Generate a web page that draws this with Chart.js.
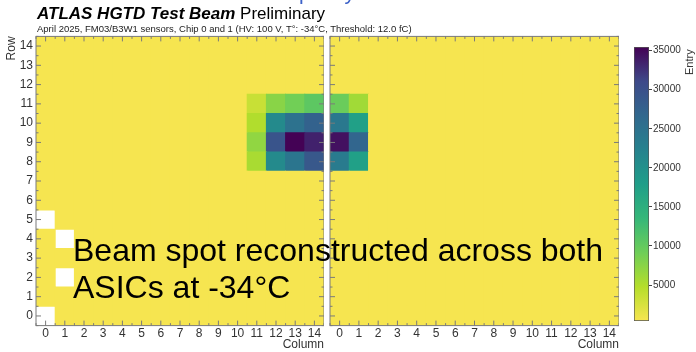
<!DOCTYPE html>
<html lang="en">
<head>
<meta charset="UTF-8">
<title>ATLAS HGTD Test Beam - module occupancy</title>
<script src="https://cdn.jsdelivr.net/npm/chart.js"></script>
<style>
body {
    margin: 0;
    width: 696px;
    height: 352px;
    overflow: hidden;
    position: relative;
    background: #fff;
    font-family: Arial, "Liberation Sans", sans-serif;
}
.box { position: absolute; top: 0; height: 352px; }
#leftBox { left: 0; width: 324px; }
#rightBox { left: 326px; width: 293px; }
#barBox { left: 620px; width: 76px; }
.txt { position: absolute; white-space: nowrap; line-height: 1; z-index: 2; }
#topline { left: 180px; top: -18px; font-size: 21px; color: #3d62c8; }
#title { left: 37px; top: 4.8px; font-size: 17px; color: #000; }
#title b { font-style: italic; }
#subtitle { left: 37px; top: 24.2px; font-size: 9.5px; color: #222; }
#note { left: 73px; top: 232.4px; font-size: 32px; line-height: 37px; color: #000; }
#entry { left: 684px; top: 75px; font-size: 11px; color: #333; transform-origin: left top; transform: rotate(-90deg); }
</style>
</head>
<body>
<div class="txt" id="topline">Module occupancy in test beam</div>
<div class="txt" id="title"><b>ATLAS HGTD Test Beam</b> Preliminary</div>
<div class="txt" id="subtitle">April 2025, FM03/B3W1 sensors, Chip 0 and 1 (HV: 100 V, T°: -34°C, Threshold: 12.0 fC)</div>
<div class="txt" id="note">Beam spot reconstructed across both<br>ASICs at -34°C</div>
<div class="txt" id="entry">Entry</div>

<div class="box" id="leftBox"><canvas id="chip0"></canvas></div>
<div class="box" id="rightBox"><canvas id="chip1"></canvas></div>
<div class="box" id="barBox"><canvas id="zbar"></canvas></div>

<script>
// pixel grid of each chip
const columns = ['0', '1', '2', '3', '4', '5', '6', '7', '8', '9', '10', '11', '12', '13', '14'];
const rows = [0, 1, 2, 3, 4, 5, 6, 7, 8, 9, 10, 11, 12, 13, 14];

// colour axis (Entry)
const zTicks = [5000, 10000, 15000, 20000, 25000, 30000, 35000];
const zMin = 400;
const zMax = 35470;

// entries of the pixels away from the beam (all the same yellow)
const flatEntries = 450;

// beam spot, rows 11 -> 8
const beamRows = [11, 10, 9, 8];
const chip0BeamCols = [11, 12, 13, 14];
const chip0Beam = [
    [3500, 7500, 9000, 10500],
    [5000, 21000, 25000, 27500],
    [7000, 29500, 35400, 33500],
    [5500, 21000, 24500, 29000]
];
const chip1BeamCols = [0, 1];
const chip1Beam = [
    [9500, 6000],
    [24000, 17500],
    [34500, 27000],
    [23500, 17500]
];

// pixels without entries, [column, row]
const chip0Empty = [[0, 5], [1, 4], [1, 2], [0, 0]];
const chip1Empty = [];

const viridis = ['#f7e550', '#b5de2b', '#6ece58', '#35b779', '#1f9e89', '#26828e', '#31688e', '#3e4989', '#440154'];

function hexToRgb(h) {
    return [1, 3, 5].map(i => parseInt(h.substr(i, 2), 16));
}

function colorFor(v) {
    let t = (v - zMin) / (zMax - zMin);
    t = Math.max(0, Math.min(1, t)) * (viridis.length - 1);
    const i = Math.min(Math.floor(t), viridis.length - 2);
    const f = t - i;
    const a = hexToRgb(viridis[i]), b = hexToRgb(viridis[i + 1]);
    const c = a.map((x, k) => Math.round(x + (b[k] - x) * f));
    return 'rgb(' + c.join(',') + ')';
}

function buildGrid(beamCols, beam, empty) {
    const grid = rows.map(() => columns.map(() => flatEntries));
    beamRows.forEach((r, i) => beamCols.forEach((c, j) => { grid[r][c] = beam[i][j]; }));
    empty.forEach(([c, r]) => { grid[r][c] = null; });
    return grid;
}

function rowDatasets(grid) {
    return rows.map(r => ({
        data: columns.map((_, c) => grid[r][c] === null ? null : [r - 0.5, r + 0.5]),
        backgroundColor: columns.map((_, c) => grid[r][c] === null ? 'rgba(0,0,0,0)' : colorFor(grid[r][c])),
        borderWidth: 0,
        grouped: false,
        barPercentage: 1,
        categoryPercentage: 1,
        inflateAmount: 0.5
    }));
}

// ROOT-like frame with inward ticks
const frameTicks = {
    id: 'frameTicks',
    afterDatasetsDraw(chart) {
        const {ctx, chartArea: a} = chart;
        const x = chart.scales.x, y = chart.scales.y;
        ctx.save();
        ctx.strokeStyle = '#7a7a7a';
        ctx.lineWidth = 1;
        ctx.strokeRect(a.left, a.top, a.width, a.height);
        ctx.beginPath();
        for (let v = -0.5; v <= 14.5; v += 0.5) {
            const len = Number.isInteger(v) ? 5 : 2.5;
            const px = x.getPixelForValue(v), py = y.getPixelForValue(v);
            ctx.moveTo(px, a.bottom); ctx.lineTo(px, a.bottom - len);
            ctx.moveTo(px, a.top); ctx.lineTo(px, a.top + len);
            ctx.moveTo(a.left, py); ctx.lineTo(a.left + len, py);
            ctx.moveTo(a.right, py); ctx.lineTo(a.right - len, py);
        }
        ctx.stroke();
        ctx.restore();
    }
};

Chart.defaults.font.family = 'Arial, "Liberation Sans", sans-serif';
Chart.defaults.color = '#333';

function chipChart(id, grid, withRowAxis) {
    return new Chart(document.getElementById(id), {
        type: 'bar',
        data: { labels: columns, datasets: rowDatasets(grid) },
        options: {
            responsive: true,
            maintainAspectRatio: false,
            animation: false,
            layout: { padding: { top: 36.4, left: 0, right: 0, bottom: 0 } },
            plugins: { legend: { display: false }, tooltip: { enabled: false } },
            scales: {
                x: {
                    type: 'category',
                    offset: true,
                    afterFit: s => { s.height = 26.4; },
                    grid: { display: false, drawTicks: false },
                    border: { display: false },
                    ticks: { padding: 1, maxRotation: 0, autoSkip: false, font: { size: 12 } },
                    title: { display: true, text: 'Column', align: 'end', padding: 0, font: { size: 12 } }
                },
                y: {
                    type: 'linear',
                    min: -0.5,
                    max: 14.5,
                    afterBuildTicks: s => { s.ticks = rows.map(v => ({ value: v })); },
                    afterFit: s => { s.width = withRowAxis ? 36 : 4; },
                    grid: { display: false, drawTicks: false },
                    border: { display: false },
                    ticks: { display: withRowAxis, padding: 3, font: { size: 12 } },
                    title: { display: withRowAxis, text: 'Row', align: 'end', padding: { top: 4, bottom: 0 }, font: { size: 12 } }
                }
            }
        },
        plugins: [frameTicks]
    });
}

chipChart('chip0', buildGrid(chip0BeamCols, chip0Beam, chip0Empty), true);
chipChart('chip1', buildGrid(chip1BeamCols, chip1Beam, chip1Empty), false);

// colour bar
new Chart(document.getElementById('zbar'), {
    type: 'bar',
    data: {
        labels: [''],
        datasets: [{
            data: [[zMin, zMax]],
            backgroundColor: (c) => {
                const area = c.chart.chartArea;
                if (!area) return viridis[0];
                const g = c.chart.ctx.createLinearGradient(0, area.bottom, 0, area.top);
                viridis.forEach((col, i) => g.addColorStop(i / (viridis.length - 1), col));
                return g;
            },
            borderColor: '#555',
            borderWidth: 1,
            borderSkipped: false,
            barPercentage: 1,
            categoryPercentage: 1
        }]
    },
    options: {
        responsive: true,
        maintainAspectRatio: false,
        animation: false,
        layout: { padding: { top: 47, bottom: 31, left: 14, right: 0 } },
        plugins: { legend: { display: false }, tooltip: { enabled: false } },
        scales: {
            x: { display: false },
            y: {
                position: 'right',
                min: zMin,
                max: zMax,
                afterBuildTicks: s => { s.ticks = zTicks.map(v => ({ value: v })); },
                afterFit: s => { s.width = 47; },
                grid: { drawOnChartArea: false, drawTicks: true, tickLength: 3, color: '#444' },
                border: { display: false },
                ticks: { padding: 1, font: { size: 10 }, callback: v => String(v) }
            }
        }
    }
});
</script>
</body>
</html>
